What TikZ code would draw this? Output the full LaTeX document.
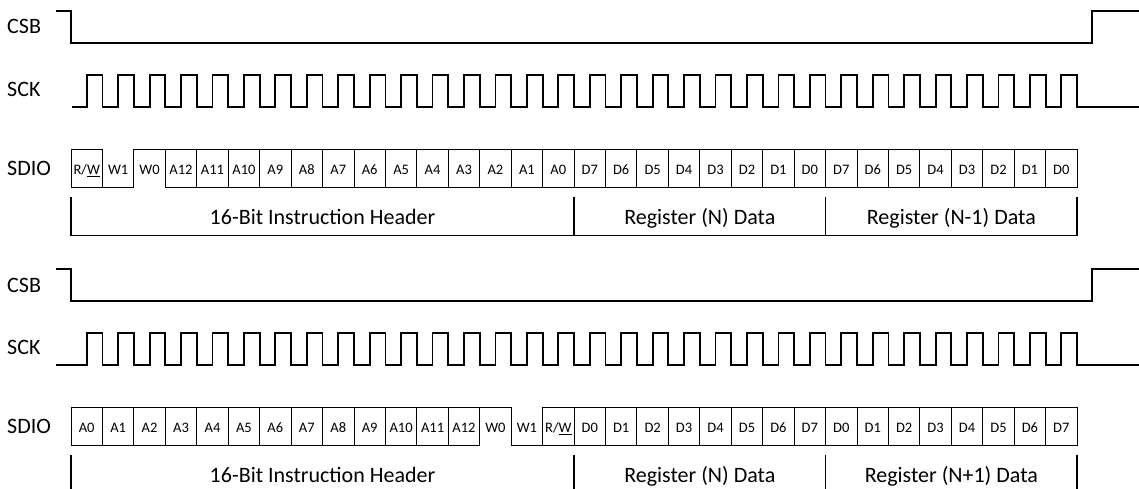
\documentclass[tikz,border=0pt]{standalone}
\usepackage{fontspec}
\setmainfont{Carlito}
\begin{document}
\begin{tikzpicture}[x=1pt,y=-1pt,
  sig/.style={line width=1.8pt, line join=miter},
  cellbox/.style={draw, line width=0.9pt, minimum width=31.44pt, minimum height=38.4pt,
    inner sep=0pt, outer sep=0pt, font=\fontsize{14.5}{16}\selectfont, text height=12pt, text depth=0pt},
  wcell/.style={cellbox, draw=none},
  lbl/.style={inner sep=0pt, font=\fontsize{22}{26}\selectfont, anchor=base west},
  brtxt/.style={inner sep=0pt, font=\fontsize{22}{26}\selectfont, anchor=base},
  brk/.style={line width=1.1pt},
  wline/.style={line width=0.9pt}]
\useasboundingbox (0,0) rectangle (1139,489);

% ---------------- top diagram ----------------
\node[lbl] (csbA) at (7,34) {CSB};
\node[lbl] (sckA) at (7,96.7) {SCK};
\node[lbl] (sdioA) at (7,175.7) {SDIO};

\draw[sig] (56,11) -- (71,11) -- (71,42.7) -- (1091.7,42.7) -- (1091.7,11) -- (1139,11);
\draw[sig] (71.5,106.7) \foreach \i in {0,...,31}{
  -- ({71+(\i+0.5)*31.44},106.7) -- ({71+(\i+0.5)*31.44},75)
  -- ({71+(\i+1)*31.44},75) -- ({71+(\i+1)*31.44},106.7)} -- (1139,106.7);

\foreach \t/\s [count=\i from 0] in {{R/\underline{W}}/cellbox, W1/wcell, W0/wcell,
  A12/cellbox, A11/cellbox, A10/cellbox, A9/cellbox, A8/cellbox, A7/cellbox, A6/cellbox,
  A5/cellbox, A4/cellbox, A3/cellbox, A2/cellbox, A1/cellbox, A0/cellbox,
  D7/cellbox, D6/cellbox, D5/cellbox, D4/cellbox, D3/cellbox, D2/cellbox, D1/cellbox, D0/cellbox,
  D7/cellbox, D6/cellbox, D5/cellbox, D4/cellbox, D3/cellbox, D2/cellbox, D1/cellbox, D0/cellbox}
  \node[\s] (t\i) at ({71+(\i+0.5)*31.44},168.5) {\t};
\draw[wline] (t1.south west) -- (t1.south east) -- (t2.north west) -- (t2.north east);

\draw[brk] (71,197) -- (71,235.5) -- (1077,235.5) -- (1077,197);
\draw[brk] (574,197) -- (574,235.5);
\draw[brk] (825.6,197) -- (825.6,235.5);
\node[brtxt] (hdrA) at (322.5,224.3) {16-Bit Instruction Header};
\node[brtxt] (regA) at (699.8,224.3) {Register (N) Data};
\node[brtxt] (regA2) at (951.3,224.3) {Register (N-1) Data};

% ---------------- bottom diagram ----------------
\begin{scope}[shift={(0,258)}]
\node[lbl] (csbB) at (7,34) {CSB};
\node[lbl] (sckB) at (7,96.7) {SCK};
\node[lbl] (sdioB) at (7,175.7) {SDIO};

\draw[sig] (56,11) -- (71,11) -- (71,42.7) -- (1091.7,42.7) -- (1091.7,11) -- (1139,11);
\draw[sig] (56,106.7) \foreach \i in {0,...,31}{
  -- ({71+(\i+0.5)*31.44},106.7) -- ({71+(\i+0.5)*31.44},75)
  -- ({71+(\i+1)*31.44},75) -- ({71+(\i+1)*31.44},106.7)} -- (1139,106.7);

\foreach \t/\s [count=\i from 0] in {A0/cellbox, A1/cellbox, A2/cellbox, A3/cellbox, A4/cellbox,
  A5/cellbox, A6/cellbox, A7/cellbox, A8/cellbox, A9/cellbox, A10/cellbox, A11/cellbox, A12/cellbox,
  W0/wcell, W1/wcell, {R/\underline{W}}/cellbox,
  D0/cellbox, D1/cellbox, D2/cellbox, D3/cellbox, D4/cellbox, D5/cellbox, D6/cellbox, D7/cellbox,
  D0/cellbox, D1/cellbox, D2/cellbox, D3/cellbox, D4/cellbox, D5/cellbox, D6/cellbox, D7/cellbox}
  \node[\s] (b\i) at ({71+(\i+0.5)*31.44},168.5) {\t};
\draw[wline] (b13.north west) -- (b13.north east) -- (b14.south west) -- (b14.south east);

\draw[brk] (71,197) -- (71,231);
\draw[brk] (574,197) -- (574,231);
\draw[brk] (825.6,197) -- (825.6,231);
\draw[brk] (1077,197) -- (1077,231);
\node[brtxt] (hdrB) at (322.5,224.3) {16-Bit Instruction Header};
\node[brtxt] (regB) at (699.8,224.3) {Register (N) Data};
\node[brtxt] (regB2) at (951.3,224.3) {Register (N+1) Data};
\end{scope}
\end{tikzpicture}
\end{document}
